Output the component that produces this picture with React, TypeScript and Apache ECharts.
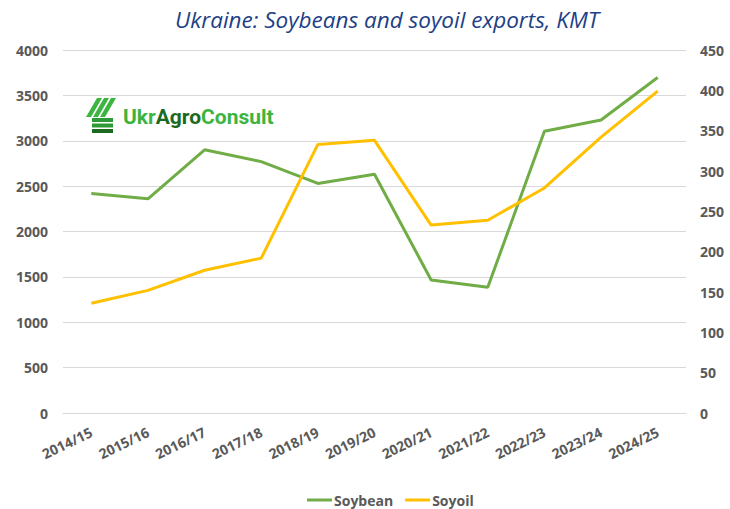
import React, { useEffect, useRef } from "react";
import * as echarts from "echarts";

const categories = ["2014/15", "2015/16", "2016/17", "2017/18", "2018/19", "2019/20", "2020/21", "2021/22", "2022/23", "2023/24", "2024/25"];
const soybean = [2420, 2360, 2900, 2770, 2530, 2630, 1466, 1385, 3104, 3229, 3697];
const soyoil = [136, 152, 177, 192, 333, 338, 233, 239, 279, 342, 399];
const leftTicks = { min: 0, max: 4000, interval: 500 };
const rightTicks = { min: 0, max: 450, interval: 50 };

const LABEL = "#595959";
const FONT = "'Open Sans', 'Noto Sans', sans-serif";

export default function App() {
  const ref = useRef<HTMLDivElement>(null);
  useEffect(() => {
    document.body.style.margin = "0";
    const chart = echarts.init(ref.current!, undefined, { renderer: "svg" });
    const bright = "#3bb53f";
    const dark = "#1b6a22";
    const stripes = [0, 1, 2].map((i) => ({
      type: "polygon",
      shape: { points: [[11 + 7 * i, 0], [16 + 7 * i, 0], [5 + 7 * i, 19], [0 + 7 * i, 19]] },
      style: { fill: bright },
    }));
    const bars = [0, 1, 2].map((i) => ({
      type: "rect",
      shape: { x: 6, y: 20 + 5.5 * i, width: 21, height: 4 },
      style: { fill: i === 2 ? dark : "#2c9a35" },
    }));
    const axisText = { fontFamily: FONT, fontWeight: "bold", fontSize: 14, color: LABEL };
    chart.setOption({
      animation: false,
      title: {
        text: "Ukraine: Soybeans and soyoil exports, KMT",
        left: 382,
        textAlign: "center",
        top: 3,
        textStyle: { fontFamily: FONT, fontStyle: "italic", fontWeight: "normal", fontSize: 22.5, color: "#213f86" },
      },
      legend: {
        left: 302,
        top: 488,
        icon: "rect",
        itemWidth: 25,
        itemHeight: 3,
        itemGap: 12,
        textStyle: { ...axisText, padding: [0, 0, 0, -3] },
        data: ["Soybean", "Soyoil"],
      },
      grid: { left: 63, right: 44, top: 50, bottom: 96 },
      xAxis: {
        type: "category",
        data: categories,
        boundaryGap: true,
        axisLine: { lineStyle: { color: "#d9d9d9" } },
        axisTick: { show: false },
        axisLabel: { ...axisText, rotate: 26, margin: 18, interval: 0 },
      },
      yAxis: [
        {
          type: "value",
          ...leftTicks,
          axisLine: { show: false },
          axisTick: { show: false },
          splitLine: { lineStyle: { color: "#d9d9d9", width: 1 } },
          axisLabel: { ...axisText, margin: 15, formatter: (v: number) => String(v) },
        },
        {
          type: "value",
          ...rightTicks,
          position: "right",
          axisLine: { show: false },
          axisTick: { show: false },
          splitLine: { show: false },
          axisLabel: { ...axisText, margin: 14, formatter: (v: number) => String(v) },
        },
      ],
      series: [
        {
          name: "Soybean",
          type: "line",
          data: soybean,
          yAxisIndex: 0,
          symbol: "none",
          color: "#70ad47",
          lineStyle: { width: 3, color: "#70ad47" },
        },
        {
          name: "Soyoil",
          type: "line",
          data: soyoil,
          yAxisIndex: 1,
          symbol: "none",
          color: "#ffc000",
          lineStyle: { width: 3, color: "#ffc000" },
        },
      ],
      graphic: [
        {
          type: "group",
          x: 86,
          y: 98,
          children: [...stripes, ...bars],
        },
        {
          type: "text",
          x: 123,
          y: 117,
          style: {
            text: "{a|Ukr}{b|Agro}{a|Consult}",
            verticalAlign: "middle",
            rich: {
              a: { fontFamily: "Roboto, sans-serif", fontWeight: "bold", fontSize: 21, fill: bright, color: bright },
              b: { fontFamily: "Roboto, sans-serif", fontWeight: "bold", fontSize: 21, fill: dark, color: dark },
            },
          },
        },
      ],
    });
    return () => chart.dispose();
  }, []);
  return <div ref={ref} style={{ width: 730, height: 509 }} />;
}
